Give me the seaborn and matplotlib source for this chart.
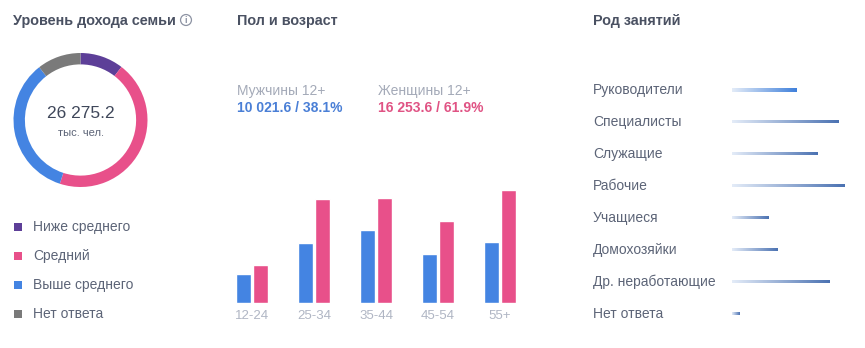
import numpy as np
import pandas as pd
import matplotlib
matplotlib.use("Agg")
import matplotlib.pyplot as plt
import seaborn as sns
from matplotlib.colors import LinearSegmentedColormap
from matplotlib import transforms
from matplotlib.patches import Circle, Rectangle

# ---------------- data ----------------
income_labels = ["Ниже среднего", "Средний", "Выше среднего", "Нет ответа"]
income_values = [2750.0, 11700.0, 9050.0, 2775.2]
income_total_text = "26 275.2"
income_unit = "тыс. чел."

age_groups = ["12-24", "25-34", "35-44", "45-54", "55+"]
male_values = [1085, 2205, 2690, 1795, 2246.6]
female_values = [1410, 3822, 3860, 3005, 4156.6]
male_label = "Мужчины 12+"
female_label = "Женщины 12+"
male_summary = "10 021.6 / 38.1%"
female_summary = "16 253.6 / 61.9%"

occupations = ["Руководители", "Специалисты", "Служащие", "Рабочие",
               "Учащиеся", "Домохозяйки", "Др. неработающие", "Нет ответа"]
occupation_share = [11.5, 19.2, 15.3, 20.3, 6.6, 8.1, 17.6, 1.4]

titles = ["Уровень дохода семьи", "Пол и возраст", "Род занятий"]

# ---------------- style ----------------
sns.set_theme(style="white")
plt.rcParams["font.family"] = ["Liberation Sans", "DejaVu Sans"]

W, H = 865, 348
fig = plt.figure(figsize=(W / 100, H / 100), dpi=100)
fig.patch.set_facecolor("white")

def fx(x):
    return x / W

def fy(y):
    return 1 - y / H

def rect(left, top, width, height):
    return [left / W, 1 - (top + height) / H, width / W, height / H]

TITLE_C = "#4a5162"
TEXT_C = "#5c6477"
LIGHT_C = "#a4aab8"
PURPLE = "#5d3f98"
PINK = "#e8508a"
BLUE = "#4484e2"
GRAY = "#7a7a7a"
income_colors = [PURPLE, PINK, BLUE, GRAY]

# titles
fig.text(fx(13), fy(21), titles[0], fontsize=10.4, fontweight="bold", color=TITLE_C, va="center", ha="left")
fig.text(fx(237), fy(21), titles[1], fontsize=10.4, fontweight="bold", color=TITLE_C, va="center", ha="left")
fig.text(fx(593), fy(21), titles[2], fontsize=10.4, fontweight="bold", color=TITLE_C, va="center", ha="left")
# info icon (circled i)
axi = fig.add_axes(rect(179, 13, 14, 14))
axi.set_xlim(-1, 1)
axi.set_ylim(-1, 1)
axi.set_aspect("equal")
axi.axis("off")
axi.add_patch(Circle((0, 0), 0.78, fill=False, edgecolor="#8d93a3", linewidth=0.9))
axi.text(0, -0.05, "i", ha="center", va="center", fontsize=6.5, color="#8d93a3", fontweight="bold")

# ---------------- donut ----------------
axd = fig.add_axes(rect(13.5, 53, 134, 134))
axd.pie(income_values, colors=income_colors, startangle=90, counterclock=False,
        wedgeprops=dict(width=0.17, edgecolor="none"))
axd.set_xlim(-1, 1)
axd.set_ylim(-1, 1)
axd.set_aspect("equal")
axd.text(0, 0.09, income_total_text, ha="center", va="center", fontsize=12.5, color="#3f475a")
axd.text(0, -0.19, income_unit, ha="center", va="center", fontsize=8, color=TEXT_C)

legend_y = [227, 256, 285, 314]
for lab, col, yy in zip(income_labels, income_colors, legend_y):
    fig.patches.append(Rectangle((fx(13.5), fy(yy + 4)), 8 / W, 8 / H,
                                 transform=fig.transFigure, facecolor=col, edgecolor="none"))
    fig.text(fx(33), fy(yy), lab, fontsize=10, color=TEXT_C, va="center", ha="left")

# ---------------- age / gender bars ----------------
fig.text(fx(237), fy(91), male_label, fontsize=10, color=LIGHT_C, va="center", ha="left")
fig.text(fx(237), fy(108), male_summary, fontsize=10, fontweight="bold", color="#4a7fd6", va="center", ha="left")
fig.text(fx(378), fy(91), female_label, fontsize=10, color=LIGHT_C, va="center", ha="left")
fig.text(fx(378), fy(108), female_summary, fontsize=10, fontweight="bold", color="#e05384", va="center", ha="left")

df = pd.DataFrame({
    "age": age_groups * 2,
    "value": male_values + female_values,
    "sex": ["m"] * len(age_groups) + ["f"] * len(age_groups),
})
axb = fig.add_axes(rect(221, 303.3 - 121, 310, 121))
sns.barplot(data=df, x="age", y="value", hue="sex", palette={"m": BLUE, "f": PINK},
            width=0.54, gap=0.06, ax=axb, legend=False, saturation=1)
axb.set_xlim(-0.5, 4.5)
axb.set_ylim(0, 4430)
axb.set_xlabel("")
axb.set_ylabel("")
axb.set_yticks([])
axb.tick_params(axis="x", length=0, pad=5, labelsize=9.5, labelcolor="#b0b6c4")
for s in axb.spines.values():
    s.set_visible(False)
axb.patch.set_alpha(0)

# ---------------- occupation gradient bars ----------------
axo = fig.add_axes(rect(732, 74, 133, 256))
px_per_unit = 113 / 20.3
axo.axis("off")
grad = np.linspace(0, 1, 256).reshape(1, -1)
blend = transforms.blended_transform_factory(fig.transFigure, axo.transData)
for i, (lab, val) in enumerate(zip(occupations, occupation_share)):
    end_col = "#3f80db" if i == 0 else "#4b72b2"
    half = (1.6 if i == 0 else 1.1) / 32
    cmap = LinearSegmentedColormap.from_list("g", ["#e4ecf8", end_col])
    axo.imshow(grad, cmap=cmap, aspect="auto", extent=(0, val, i + half, i - half),
               interpolation="bilinear")
    axo.text(fx(593), i, lab, transform=blend, fontsize=10, color=TEXT_C, va="center", ha="left")
axo.set_xlim(0, 133 / px_per_unit)
axo.set_ylim(len(occupations) - 0.5, -0.5)

fig.savefig("out.png", dpi=100, facecolor="white")
